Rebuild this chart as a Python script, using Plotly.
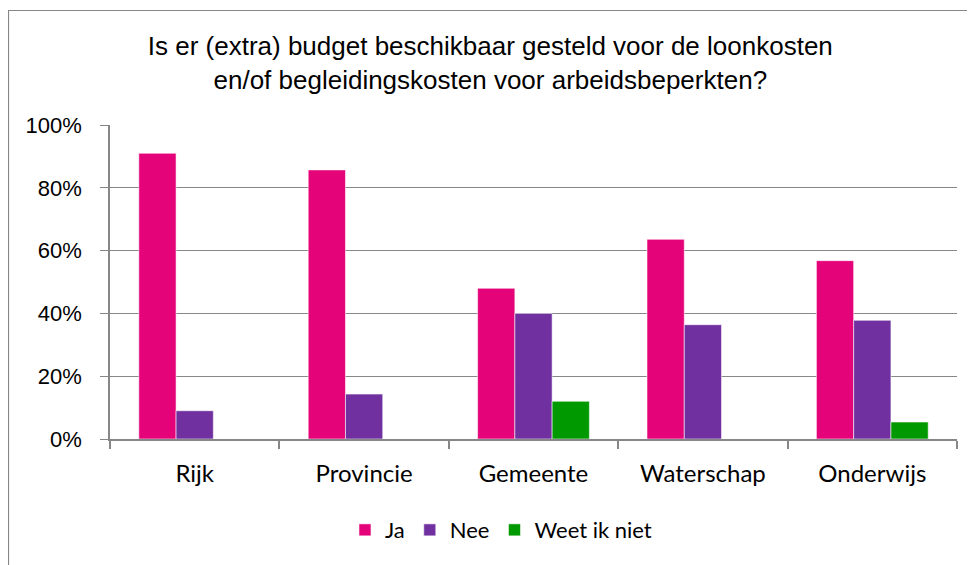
import plotly.graph_objects as go

# Categories and answer shares (percent)
categories = ['Rijk', 'Provincie', 'Gemeente', 'Waterschap', 'Onderwijs']
ja = [91.0, 85.7, 48.0, 63.6, 56.8]
nee = [9.0, 14.3, 40.0, 36.4, 37.8]
weet_niet = [0, 0, 12.0, 0, 5.4]

series_names = ['Ja', 'Nee', 'Weet ik niet']
series_colors = ['#E5037A', '#7030A0', '#009900']

title_text = ('Is er (extra) budget beschikbaar gesteld voor de loonkosten<br>'
              'en/of begleidingskosten voor arbeidsbeperkten?')

grey = '#878787'

# page body adds an 8px margin, so the figure is 8px smaller than the window
W, H = 967, 557
L, T, R, B = 102, 117, 18, 126
pw, ph = W - L - R, H - T - B

fig = go.Figure()
for name, values, color in zip(series_names, [ja, nee, weet_niet], series_colors):
    fig.add_trace(go.Bar(x=categories, y=values, name=name,
                         marker=dict(color=color,
                                     line=dict(color='rgba(255,255,255,0.55)', width=1)),
                         hoverinfo='none'))

fig.update_layout(
    width=W, height=H,
    margin=dict(l=L, r=R, t=T, b=B),
    paper_bgcolor='white', plot_bgcolor='white',
    barmode='group', bargap=0.34, bargroupgap=0,
    title=dict(text=title_text, x=0.449, xref='paper', xanchor='center',
               y=1 - 47 / H, yanchor='top',
               font=dict(family='Liberation Sans, Arial', size=26, color='#000')),
    legend=dict(orientation='h', x=0.4616, xanchor='center', y=-0.29, yanchor='middle',
                font=dict(family='Lato', size=22, color='#000'),
                traceorder='normal'),
    showlegend=True,
)

fig.update_yaxes(range=[0, 100], dtick=20, ticksuffix='%',
                 showgrid=True, gridcolor=grey, gridwidth=1.3,
                 showline=True, linecolor=grey, linewidth=1.5,
                 ticks='outside', ticklen=8, tickcolor=grey, tickwidth=1.3,
                 ticklabelstandoff=14, zeroline=False,
                 tickfont=dict(family='Liberation Sans, Arial', size=22, color='#000'))

fig.update_xaxes(showline=True, linecolor=grey, linewidth=1.5,
                 ticks='outside', ticklen=8, tickcolor=grey, tickwidth=1.5,
                 tickson='boundaries', ticklabelstandoff=12, showgrid=False,
                 tickfont=dict(family='Lato', size=24, color='#000'))

# Thin chart-area border like the spreadsheet frame
fig.add_shape(type='rect', xref='paper', yref='paper',
              x0=(0.5 - L) / pw, x1=1.2, y0=-0.6, y1=(T + ph - 2.5) / ph,
              line=dict(color=grey, width=1.2), layer='below')

fig.write_html('out.html')
